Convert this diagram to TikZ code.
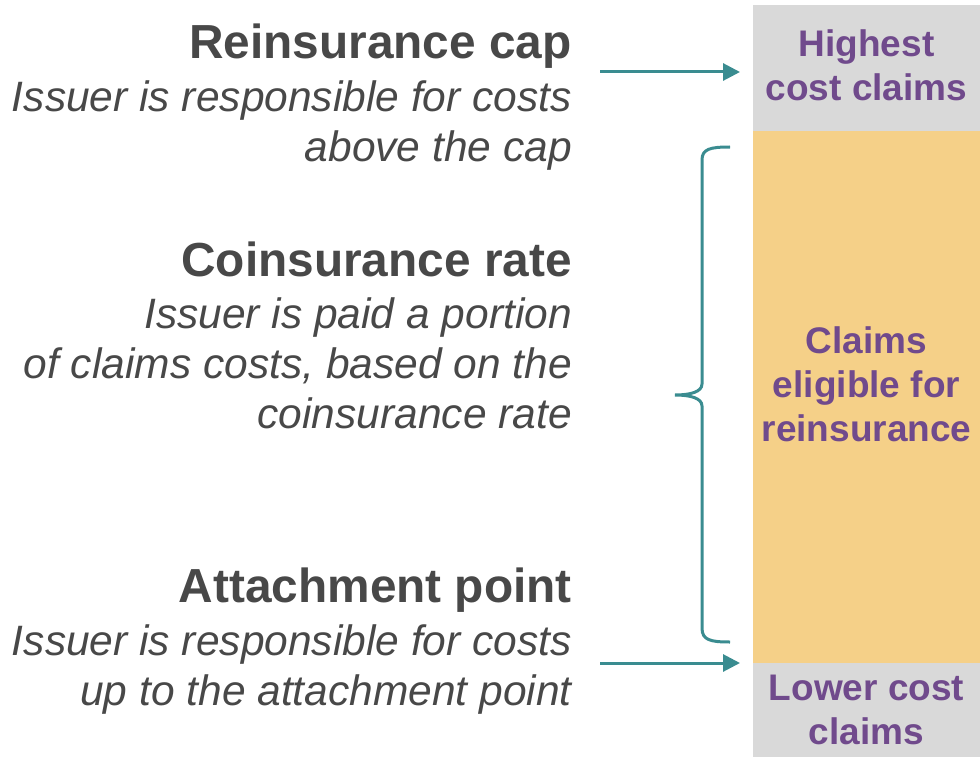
\documentclass[tikz,border=0pt]{standalone}
\usepackage{fontspec}
\setmainfont{Liberation Sans}
\usetikzlibrary{arrows.meta}
\definecolor{txtgray}{RGB}{72,72,72}
\definecolor{claimpurple}{RGB}{112,74,140}
\definecolor{lineteal}{RGB}{58,140,144}
\definecolor{boxgray}{RGB}{217,217,217}
\definecolor{boxorange}{RGB}{245,208,136}

\tikzset{
  heading/.style={anchor=base east, inner sep=0pt, text=txtgray,
    font=\fontsize{47.8}{50}\selectfont\bfseries},
  note/.style={anchor=base east, inner sep=0pt, text=txtgray, align=right,
    font=\fontsize{42.5}{50}\selectfont\itshape},
  band/.style={draw=none, inner sep=0pt, minimum width=227pt, anchor=north west},
  claim/.style={text=claimpurple, align=center, inner sep=0pt,
    font=\fontsize{37}{44}\selectfont\bfseries},
  pointer/.style={draw=lineteal, line width=3pt,
    -{Triangle[length=17pt,width=17pt]}, shorten >=13pt},
}

\begin{document}
\begin{tikzpicture}[x=1pt,y=-1pt]
\useasboundingbox (0,0) rectangle (980,757);

% claim bands
\node[band, fill=boxgray, minimum height=126pt] (high) at (753,5) {};
\node[band, fill=boxorange, minimum height=532pt] (elig) at (753,131) {};
\node[band, fill=boxgray, minimum height=94pt] (low) at (753,663) {};

\node[claim] (highlbl) at (866.5,65) {Highest\\cost claims};
\node[claim] (eliglbl) at (866.5,384) {Claims\\eligible for\\reinsurance};
\node[claim] (lowlbl) at (866.5,710) {Lower cost\\claims};

% reinsurance cap
\node[heading] (cap) at (572,59) {Reinsurance cap};
\node[note] (capnote) at (572,161) {Issuer is responsible for costs\\above the cap};

% coinsurance rate
\node[heading] (coins) at (572,276) {Coinsurance rate};
\node[note] (coinsnote) at (572,428) {Issuer is paid a portion\\of claims costs, based on the\\coinsurance rate};

% attachment point
\node[heading] (attach) at (572,602) {Attachment point};
\node[note] (attachnote) at (572,705) {Issuer is responsible for costs\\up to the attachment point};

% arrows
\coordinate (capfrom) at (600,72);
\draw[pointer] (capfrom) -- (capfrom -| high.west);
\coordinate (attfrom) at (600,663);
\draw[pointer] (attfrom) -- (attfrom -| low.west);

% brace
\draw[lineteal, line width=3pt]
  (730,147) .. controls (710,147) and (702,149) .. (702,160) -- (702,384)
  .. controls (702,392) and (690,395) .. (675,395)
  .. controls (690,395) and (702,398) .. (702,406) -- (702,628)
  .. controls (702,640) and (710,642) .. (730,642);

\end{tikzpicture}
\end{document}
